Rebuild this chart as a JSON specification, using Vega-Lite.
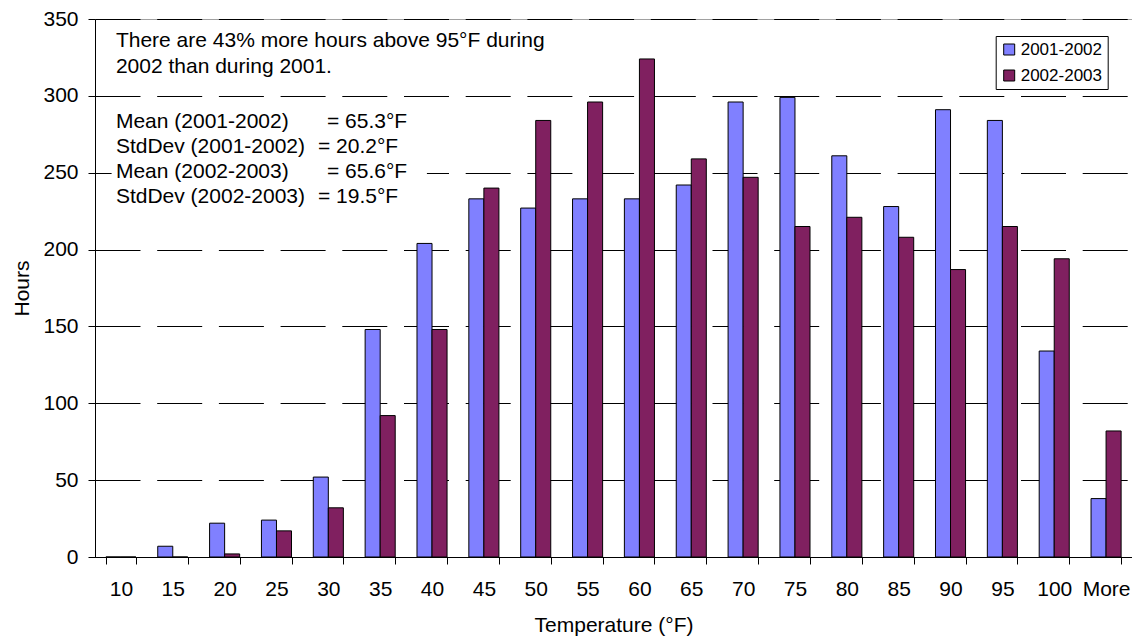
{
  "$schema": "https://vega.github.io/schema/vega-lite/v6.json",
  "width": 1037,
  "height": 538,
  "autosize": {"type": "none"},
  "padding": {"left": 95, "top": 19, "right": 0, "bottom": 79},
  "background": "white",
  "config": {
    "font": "Liberation Sans",
    "view": {"stroke": "#a0a0a0", "strokeWidth": 1},
    "axis": {
      "labelFont": "Liberation Sans",
      "titleFont": "Liberation Sans",
      "labelColor": "#000000",
      "titleColor": "#000000",
      "tickColor": "#000000",
      "domainColor": "#000000",
      "labelFontSize": 21,
      "titleFontSize": 21,
      "titleFontWeight": "normal",
      "tickSize": 7
    }
  },
  "layer": [
    {
      "data": {
        "values": [
          {"temp": "10", "series": "2001-2002", "hours": 0},
          {"temp": "10", "series": "2002-2003", "hours": 0},
          {"temp": "15", "series": "2001-2002", "hours": 7},
          {"temp": "15", "series": "2002-2003", "hours": 0},
          {"temp": "20", "series": "2001-2002", "hours": 22},
          {"temp": "20", "series": "2002-2003", "hours": 2},
          {"temp": "25", "series": "2001-2002", "hours": 24},
          {"temp": "25", "series": "2002-2003", "hours": 17},
          {"temp": "30", "series": "2001-2002", "hours": 52},
          {"temp": "30", "series": "2002-2003", "hours": 32},
          {"temp": "35", "series": "2001-2002", "hours": 148},
          {"temp": "35", "series": "2002-2003", "hours": 92},
          {"temp": "40", "series": "2001-2002", "hours": 204},
          {"temp": "40", "series": "2002-2003", "hours": 148},
          {"temp": "45", "series": "2001-2002", "hours": 233},
          {"temp": "45", "series": "2002-2003", "hours": 240},
          {"temp": "50", "series": "2001-2002", "hours": 227},
          {"temp": "50", "series": "2002-2003", "hours": 284},
          {"temp": "55", "series": "2001-2002", "hours": 233},
          {"temp": "55", "series": "2002-2003", "hours": 296},
          {"temp": "60", "series": "2001-2002", "hours": 233},
          {"temp": "60", "series": "2002-2003", "hours": 324},
          {"temp": "65", "series": "2001-2002", "hours": 242},
          {"temp": "65", "series": "2002-2003", "hours": 259},
          {"temp": "70", "series": "2001-2002", "hours": 296},
          {"temp": "70", "series": "2002-2003", "hours": 247},
          {"temp": "75", "series": "2001-2002", "hours": 299},
          {"temp": "75", "series": "2002-2003", "hours": 215},
          {"temp": "80", "series": "2001-2002", "hours": 261},
          {"temp": "80", "series": "2002-2003", "hours": 221},
          {"temp": "85", "series": "2001-2002", "hours": 228},
          {"temp": "85", "series": "2002-2003", "hours": 208},
          {"temp": "90", "series": "2001-2002", "hours": 291},
          {"temp": "90", "series": "2002-2003", "hours": 187},
          {"temp": "95", "series": "2001-2002", "hours": 284},
          {"temp": "95", "series": "2002-2003", "hours": 215},
          {"temp": "100", "series": "2001-2002", "hours": 134},
          {"temp": "100", "series": "2002-2003", "hours": 194},
          {"temp": "More", "series": "2001-2002", "hours": 38},
          {"temp": "More", "series": "2002-2003", "hours": 82}
        ]
      },
      "mark": {"type": "bar", "stroke": "#000000", "strokeWidth": 1},
      "encoding": {
        "x": {
          "field": "temp",
          "type": "nominal",
          "title": "Temperature (°F)",
          "scale": {
            "domain": ["10", "15", "20", "25", "30", "35", "40", "45", "50", "55", "60", "65", "70", "75", "80", "85", "90", "95", "100", "More"],
            "paddingInner": 0.42,
            "paddingOuter": 0.21
          },
          "axis": {
            "tickBand": "extent",
            "labelAngle": 0,
            "labelPadding": 14,
            "grid": false,
            "titleBaseline": "alphabetic",
            "titleY": 74.5
          }
        },
        "xOffset": {
          "field": "series",
          "type": "nominal",
          "scale": {"domain": ["2001-2002", "2002-2003"], "paddingInner": 0, "paddingOuter": 0}
        },
        "y": {
          "field": "hours",
          "type": "quantitative",
          "title": "Hours",
          "scale": {"domain": [0, 350], "nice": false},
          "axis": {
            "values": [0, 50, 100, 150, 200, 250, 300, 350],
            "grid": true,
            "gridColor": "#000000",
            "gridDash": [45, 16.7],
            "gridOpacity": 1,
            "labelPadding": 10,
            "titleBaseline": "alphabetic",
            "titleX": -66.7
          }
        },
        "color": {
          "field": "series",
          "type": "nominal",
          "scale": {"domain": ["2001-2002", "2002-2003"], "range": ["#8080FF", "#802060"]},
          "legend": {
            "title": null,
            "orient": "none",
            "legendX": 900.7,
            "legendY": 17,
            "direction": "vertical",
            "symbolType": "square",
            "symbolSize": 121,
            "symbolStrokeColor": "#000000",
            "symbolStrokeWidth": 1,
            "symbolOpacity": 1,
            "labelFont": "Liberation Sans",
            "labelFontSize": 17,
            "labelColor": "#000000",
            "labelOffset": 3,
            "padding": 5,
            "rowPadding": 8,
            "strokeColor": "#000000",
            "fillColor": "#ffffff"
          }
        }
      }
    },
    {
      "data": {"values": [{"from": "10", "to": "40", "top": 294, "bottom": 225}]},
      "mark": {"type": "rect", "color": "#ffffff", "opacity": 1},
      "encoding": {
        "x": {"field": "from", "type": "nominal", "bandPosition": 0.19},
        "x2": {"field": "to", "bandPosition": 0.33},
        "y": {"field": "top", "type": "quantitative"},
        "y2": {"field": "bottom"}
      }
    },
    {
      "data": {
        "values": [
          {"temp": "10", "hours": 336, "label": "There are 43% more hours above 95°F during"},
          {"temp": "10", "hours": 318.7, "label": "2002 than during 2001."},
          {"temp": "10", "hours": 283, "label": "Mean (2001-2002)"},
          {"temp": "10", "hours": 266.7, "label": "StdDev (2001-2002)"},
          {"temp": "10", "hours": 250.5, "label": "Mean (2002-2003)"},
          {"temp": "10", "hours": 234.2, "label": "StdDev (2002-2003)"}
        ]
      },
      "mark": {"type": "text", "align": "left", "baseline": "middle", "fontSize": 21, "font": "Liberation Sans", "color": "#000000", "dx": -5},
      "encoding": {
        "x": {"field": "temp", "type": "nominal"},
        "y": {"field": "hours", "type": "quantitative"},
        "text": {"field": "label"}
      }
    },
    {
      "data": {
        "values": [
          {"temp": "10", "hours": 283, "label": "= 65.3°F"},
          {"temp": "10", "hours": 250.5, "label": "= 65.6°F"}
        ]
      },
      "mark": {"type": "text", "align": "left", "baseline": "middle", "fontSize": 21, "font": "Liberation Sans", "color": "#000000", "dx": 206},
      "encoding": {
        "x": {"field": "temp", "type": "nominal"},
        "y": {"field": "hours", "type": "quantitative"},
        "text": {"field": "label"}
      }
    },
    {
      "data": {
        "values": [
          {"temp": "10", "hours": 266.7, "label": "= 20.2°F"},
          {"temp": "10", "hours": 234.2, "label": "= 19.5°F"}
        ]
      },
      "mark": {"type": "text", "align": "left", "baseline": "middle", "fontSize": 21, "font": "Liberation Sans", "color": "#000000", "dx": 197},
      "encoding": {
        "x": {"field": "temp", "type": "nominal"},
        "y": {"field": "hours", "type": "quantitative"},
        "text": {"field": "label"}
      }
    }
  ]
}
